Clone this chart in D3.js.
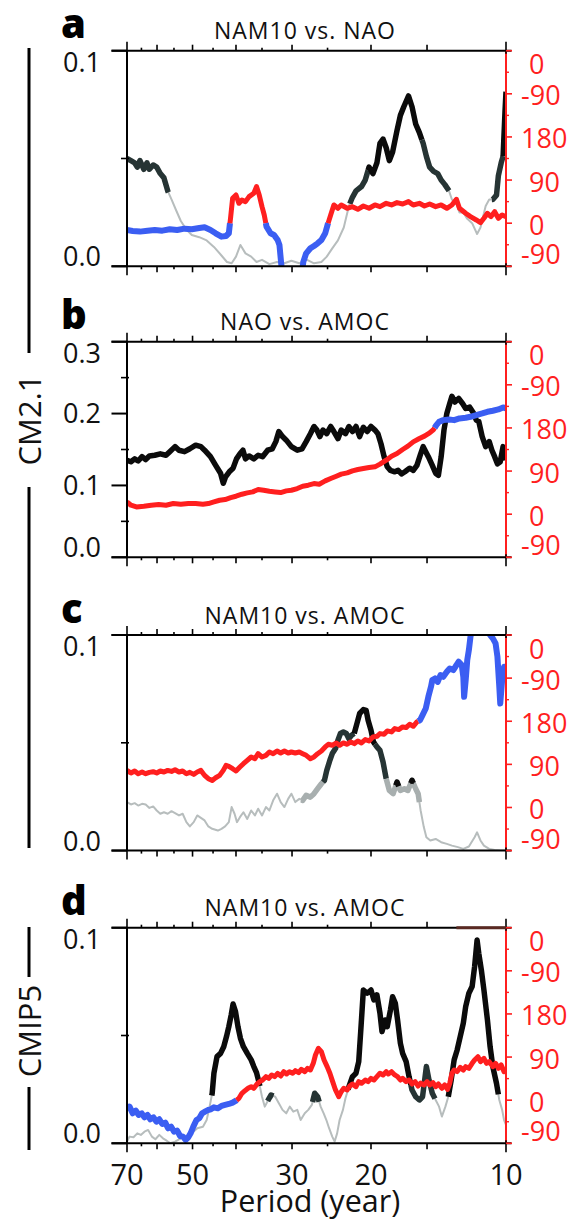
<!DOCTYPE html>
<html>
<head>
<meta charset="utf-8">
<script src="https://cdn.jsdelivr.net/npm/d3@7"></script>
<style>
  html, body { margin: 0; padding: 0; background: #fff; }
  svg { display: block; }
  text { font-family: "Open Sans", "Noto Sans", sans-serif; }
</style>
</head>
<body>
<svg id="fig" width="578" height="1220"></svg>
<script>
// ---------------- data ----------------
const panelLetters = ["a", "b", "c", "d"];
const panelTitles = ["NAM10 vs. NAO", "NAO vs. AMOC", "NAM10 vs. AMOC", "NAM10 vs. AMOC"];
const groupLabels = ["CM2.1", "CMIP5"];

const xTickLabels = [70, 50, 30, 20, 10];
const xTicksEnd = [70, 10];
const xTicksMid = [60, 50, 40, 30, 20, 15];
const xTicksSmall = [65, 55, 45, 35, 25];

const cohMax = [0.1, 0.3, 0.1, 0.1];
const cohTickLabels = [[0, 0.1], [0, 0.1, 0.2, 0.3], [0, 0.1], [0, 0.1]];
const cohMinorTicks = [[0.05], [0.05, 0.15, 0.25], [0.05], [0.05]];

const phaseTicks = [-90, 0, 90, 180, 270, 360];
const phaseMinorTicks = [-45, 45, 135, 225, 315];

// coherence [period (yr), value]
const cohA = [[70,0.050],[68.6,0.049],[67.3,0.048],[66.4,0.046],[65.5,0.049],[64.2,0.045],[63.2,0.048],[62.4,0.045],[61.2,0.047],[60.1,0.046],[59.0,0.043],[57.9,0.041],[56.8,0.035],[55.7,0.031],[54.4,0.026],[53.1,0.021],[51.6,0.017],[50.2,0.0145],[48.3,0.0135],[46.5,0.012],[44.8,0.009],[43.1,0.005],[41.9,0.002],[40.9,0.0014],[40.0,0.0045],[39.1,0.0099],[38.1,0.006],[37.0,0.0045],[36.0,0.002],[35.0,0.003],[33.7,0.001],[32.4,0.002],[31.2,0.0014],[30.1,0.0026],[28.9,0.0014],[27.9,0.0032],[26.8,0.0014],[25.8,0.002],[25.1,0.0045],[24.4,0.0083],[23.7,0.012],[23.0,0.018],[22.4,0.028],[22.0,0.032],[21.6,0.035],[21.0,0.037],[20.6,0.040],[20.2,0.046],[19.8,0.043],[19.4,0.048],[19.1,0.057],[18.8,0.059],[18.5,0.055],[18.2,0.049],[17.9,0.053],[17.5,0.063],[17.2,0.070],[16.9,0.074],[16.5,0.079],[16.2,0.074],[15.9,0.066],[15.6,0.062],[15.3,0.057],[15.05,0.051],[14.8,0.046],[14.5,0.044],[14.2,0.043],[13.95,0.040],[13.7,0.038],[13.4,0.035],[13.2,0.031],[12.9,0.029],[12.7,0.025],[12.45,0.025],[12.2,0.022],[11.9,0.020],[11.6,0.015],[11.4,0.018],[11.1,0.028],[10.9,0.031],[10.7,0.031],[10.5,0.033],[10.4,0.042],[10.25,0.048],[10.15,0.051],[10.05,0.072],[10.0,0.081]];

const cohB = [[70,0.135],[68.6,0.133],[67.3,0.137],[66.1,0.134],[64.8,0.140],[63.6,0.136],[62.4,0.141],[60.7,0.142],[59.0,0.144],[57.3,0.142],[56.2,0.147],[54.7,0.154],[53.6,0.149],[52.1,0.147],[50.7,0.151],[49.2,0.156],[47.9,0.154],[47.0,0.149],[45.6,0.140],[44.4,0.128],[43.3,0.117],[42.7,0.103],[42.2,0.112],[41.4,0.119],[40.6,0.124],[39.9,0.137],[39.2,0.144],[38.6,0.149],[38.1,0.137],[37.4,0.141],[36.5,0.137],[35.7,0.142],[34.9,0.140],[34.0,0.149],[33.2,0.151],[32.6,0.161],[32.1,0.175],[31.5,0.168],[30.9,0.163],[30.1,0.154],[29.2,0.149],[28.5,0.151],[27.9,0.161],[27.3,0.172],[26.8,0.182],[26.4,0.177],[26.0,0.168],[25.6,0.177],[25.1,0.172],[24.6,0.182],[24.2,0.175],[23.7,0.165],[23.3,0.177],[22.8,0.172],[22.4,0.182],[22.0,0.175],[21.6,0.182],[21.2,0.168],[20.8,0.181],[20.4,0.175],[20.0,0.182],[19.6,0.177],[19.3,0.172],[19.0,0.158],[18.7,0.140],[18.4,0.126],[18.1,0.121],[17.7,0.119],[17.4,0.121],[17.1,0.116],[16.8,0.119],[16.4,0.124],[16.1,0.121],[15.8,0.128],[15.5,0.144],[15.3,0.154],[15.1,0.147],[14.9,0.140],[14.6,0.128],[14.35,0.117],[14.15,0.114],[13.95,0.140],[13.75,0.177],[13.55,0.200],[13.35,0.214],[13.2,0.224],[13.0,0.216],[12.75,0.221],[12.5,0.214],[12.3,0.207],[12.05,0.209],[11.8,0.200],[11.65,0.191],[11.5,0.189],[11.3,0.168],[11.1,0.154],[10.9,0.161],[10.75,0.149],[10.6,0.140],[10.45,0.130],[10.3,0.133],[10.15,0.154],[10.05,0.144],[10.0,0.135]];

const cohC = [[70,0.0225],[68.6,0.0214],[67.3,0.0220],[66.1,0.0209],[64.8,0.0217],[63.6,0.0214],[62.4,0.0198],[61.2,0.0205],[60.1,0.0186],[59.0,0.0171],[57.9,0.0178],[56.8,0.0171],[55.7,0.0183],[54.7,0.0174],[53.6,0.0163],[52.6,0.0171],[51.6,0.0132],[50.7,0.0112],[49.7,0.0132],[48.8,0.0163],[47.9,0.0152],[47.0,0.0140],[46.1,0.0112],[45.2,0.0101],[43.9,0.0093],[43.1,0.0101],[42.3,0.0112],[41.5,0.0132],[40.9,0.0202],[40.3,0.0171],[39.8,0.0132],[39.2,0.0155],[38.5,0.0178],[37.75,0.0147],[37.0,0.0186],[36.3,0.0163],[35.7,0.0194],[35.0,0.0163],[34.3,0.0202],[33.7,0.0186],[33.05,0.0233],[32.4,0.0264],[31.8,0.0225],[31.2,0.0202],[30.6,0.0240],[30.1,0.0264],[29.5,0.0225],[28.9,0.0240],[28.4,0.0233],[27.9,0.0256],[27.3,0.0248],[26.8,0.0264],[26.3,0.0287],[25.8,0.0310],[25.4,0.0326],[25.1,0.0372],[24.7,0.0419],[24.4,0.0450],[24.0,0.0473],[23.7,0.0512],[23.4,0.0543],[23.05,0.0550],[22.7,0.0543],[22.4,0.0519],[22.1,0.0535],[21.8,0.0543],[21.5,0.0589],[21.2,0.0636],[20.8,0.0654],[20.5,0.0650],[20.3,0.0605],[20.0,0.0558],[19.75,0.0504],[19.4,0.0481],[19.1,0.0465],[18.8,0.0411],[18.5,0.0333],[18.2,0.0279],[17.85,0.0264],[17.5,0.0318],[17.2,0.0279],[16.85,0.0287],[16.55,0.0279],[16.2,0.0326],[15.9,0.0287],[15.7,0.0264],[15.5,0.0186],[15.25,0.0109],[15.05,0.0062],[14.75,0.0047],[14.35,0.0054],[13.95,0.0039],[13.55,0.0031],[13.2,0.0023],[12.8,0.0016],[12.45,0.0008],[12.1,0.0019],[11.75,0.0062],[11.6,0.0085],[11.4,0.0047],[11.2,0.0023],[10.9,0.0008],[10.6,0.0003],[10.3,0.0],[10.0,0.0]];

const cohD = [[70,0.0008],[69.1,0.0031],[67.7,0.0028],[66.4,0.0046],[65.2,0.0039],[64.0,0.0054],[62.8,0.0062],[61.6,0.0031],[60.5,0.0019],[59.3,0.0039],[58.2,0.0023],[57.1,0.0012],[56.0,0.0],[54.7,0.0008],[53.1,0.0023],[51.6,0.0031],[50.2,0.0046],[48.8,0.0070],[47.4,0.0077],[46.5,0.0108],[45.8,0.0170],[45.2,0.0232],[44.8,0.0325],[44.1,0.0402],[43.3,0.0417],[42.6,0.0448],[42.0,0.0495],[41.5,0.0541],[41.0,0.0595],[40.6,0.0646],[40.1,0.0611],[39.6,0.0541],[39.1,0.0487],[38.5,0.0448],[37.75,0.0417],[37.0,0.0387],[36.5,0.0356],[36.0,0.0328],[35.5,0.0278],[35.0,0.0216],[34.5,0.0170],[33.9,0.0201],[33.4,0.0224],[32.7,0.0216],[32.1,0.0186],[31.5,0.0155],[30.9,0.0139],[30.35,0.0170],[29.8,0.0147],[29.2,0.0155],[28.7,0.0108],[28.1,0.0139],[27.6,0.0155],[27.1,0.0178],[26.7,0.0232],[26.3,0.0216],[25.9,0.0170],[25.5,0.0139],[25.15,0.0108],[24.8,0.0070],[24.4,0.0031],[24.1,0.0008],[23.8,0.0046],[23.5,0.0108],[23.1,0.0155],[22.8,0.0209],[22.4,0.0263],[22.0,0.0309],[21.6,0.0325],[21.3,0.0379],[21.05,0.0541],[20.8,0.0711],[20.4,0.0696],[20.0,0.0711],[19.7,0.0665],[19.4,0.0688],[19.1,0.0603],[18.9,0.0518],[18.6,0.0572],[18.4,0.0541],[18.1,0.0618],[17.9,0.0680],[17.65,0.0649],[17.45,0.0572],[17.2,0.0464],[17.0,0.0417],[16.7,0.0379],[16.45,0.0309],[16.2,0.0247],[15.9,0.0216],[15.6,0.0201],[15.35,0.0216],[15.05,0.0356],[14.85,0.0294],[14.6,0.0232],[14.35,0.0201],[14.1,0.0170],[13.9,0.0124],[13.65,0.0170],[13.45,0.0216],[13.25,0.0294],[13.05,0.0387],[12.85,0.0433],[12.65,0.0495],[12.45,0.0557],[12.3,0.0634],[12.1,0.0696],[11.9,0.0727],[11.75,0.0819],[11.6,0.0943],[11.5,0.0881],[11.35,0.0804],[11.2,0.0711],[11.0,0.0572],[10.85,0.0448],[10.7,0.0356],[10.5,0.0278],[10.35,0.0201],[10.2,0.0155],[10.1,0.0108],[10.0,0.0085]];

// significant period ranges [from, to, level]: 1 = weak, 2 = moderate, 3 = strong
const sigA = [[70,56.6,2],[22.3,20.3,2],[20.3,15.4,3],[15.4,13.4,2],[10.75,10.15,2],[10.15,10,3]];
const sigB = [[70,10,3]];
const sigC = [[28.6,25.6,1],[25.6,21.8,2],[21.8,19.6,3],[19.6,18.5,2],[18.5,15.6,1],[17.6,17.35,3],[16.3,16.1,3]];
const sigD = [[45.3,35.4,3],[34.0,33.0,2],[27.0,26.1,2],[22.5,16.3,3],[16.3,14.4,2],[13.45,10.4,3]];

// phase [period (yr), degrees]
const phaseA = [[70,-14.2],[68.0,-16.3],[65.5,-17.6],[63.0,-15.6],[60.7,-14.2],[58.4,-15.6],[56.2,-12.8],[54.1,-14.2],[52.1,-11.4],[50.2,-12.8],[48.3,-10.0],[47.0,-8.6],[45.6,-14.2],[44.4,-21.1],[43.1,-28.1],[42.1,-26.7],[41.5,-21.1],[41.1,13.7],[40.7,51.9],[40.0,58.9],[39.4,41.5],[38.8,48.4],[38.1,45.0],[37.4,55.4],[36.5,62.4],[36.0,76.3],[35.5,58.9],[35.0,34.5],[34.6,17.1],[34.2,-7.2],[33.5,-21.1],[32.9,-24.6],[32.3,-35.0],[32.0,-45.5],[31.6,-100],[30.1,-120],[28.5,-100],[28.3,-80.3],[27.9,-62.9],[27.3,-52.4],[26.8,-47.6],[26.3,-42.0],[25.8,-35.0],[25.3,-21.1],[25.0,-3.7],[24.6,17.1],[24.2,38.0],[23.7,31.1],[23.3,38.0],[22.6,31.1],[22.0,34.5],[21.4,29.0],[20.8,35.9],[20.2,31.1],[19.6,38.0],[19.1,34.5],[18.5,41.5],[18.0,38.0],[17.5,42.9],[17.0,40.1],[16.5,45.0],[16.1,38.0],[15.6,41.5],[15.2,35.9],[14.8,40.1],[14.35,34.5],[13.95,38.0],[13.55,31.1],[13.2,38.0],[12.9,49.8],[12.7,31.1],[12.3,20.6],[12.0,13.7],[11.65,6.7],[11.4,1.1],[11.2,10.2],[11.0,20.6],[10.8,13.7],[10.6,24.1],[10.4,10.2],[10.2,17.1],[10.0,13.7]];

const phaseB = [[70,25.6],[68.6,18.7],[66.7,15.2],[64.2,16.6],[61.8,18.7],[59.5,20.1],[57.3,18.7],[55.2,22.2],[53.1,20.8],[51.1,22.2],[49.2,22.2],[47.4,20.8],[46.1,22.2],[44.8,25.6],[43.5,29.1],[42.3,30.5],[41.1,34.7],[40.0,37.5],[38.8,41.7],[37.75,44.4],[36.7,46.5],[35.7,51.4],[34.7,50.0],[33.7,47.9],[32.7,46.5],[31.8,45.1],[30.9,48.6],[30.1,50.0],[29.2,53.5],[28.4,58.4],[27.6,60.5],[26.8,63.9],[26.1,62.6],[25.3,69.5],[24.6,74.4],[23.9,79.3],[23.3,83.5],[22.6,86.2],[22.0,90.4],[21.4,93.2],[20.8,95.3],[20.2,97.4],[19.6,98.8],[19.1,104.4],[18.5,112.7],[18.0,121.1],[17.5,126.6],[17.0,135.0],[16.55,142.0],[16.1,151.0],[15.6,158.0],[15.2,162.9],[14.8,169.8],[14.5,176.8],[14.3,185.9],[14.1,192.8],[13.8,196.3],[13.4,197.7],[13.05,196.3],[12.7,199.8],[12.3,201.2],[12.0,203.3],[11.65,206.8],[11.3,210.2],[11.0,213.7],[10.7,215.8],[10.4,218.6],[10.15,222.8],[10.0,220.7]];

const phaseC = [[70,77.4],[68.6,71.9],[67.3,76.1],[66.1,70.5],[64.8,74.0],[63.6,70.5],[62.4,73.3],[61.2,74.7],[60.1,71.9],[59.0,76.1],[57.9,74.0],[56.8,77.4],[55.7,75.3],[54.7,78.8],[53.6,74.0],[52.6,76.1],[51.6,70.5],[50.7,73.3],[49.7,69.1],[48.8,74.0],[47.9,77.4],[47.0,67.0],[46.1,60.0],[45.2,56.5],[44.4,62.1],[43.5,67.0],[42.7,77.4],[42.1,87.9],[41.5,85.8],[40.7,80.9],[40.0,76.1],[39.2,84.4],[38.5,91.4],[37.75,98.4],[37.0,105.4],[36.3,101.9],[35.7,112.3],[35.0,105.4],[34.3,108.8],[33.7,115.8],[33.05,112.3],[32.4,117.9],[31.8,113.7],[31.2,117.9],[30.6,113.7],[30.1,115.8],[29.5,113.7],[28.9,115.8],[28.4,112.3],[27.9,108.8],[27.3,101.9],[26.8,105.4],[26.3,112.3],[25.8,117.9],[25.3,126.3],[24.9,131.9],[24.4,129.8],[23.9,134.7],[23.5,129.8],[23.05,134.7],[22.6,131.9],[22.2,136.8],[21.8,133.3],[21.4,138.8],[21.0,134.7],[20.6,141.6],[20.2,138.8],[19.8,147.2],[19.4,148.6],[19.1,154.2],[18.7,152.8],[18.4,159.8],[18.0,157.7],[17.7,164.7],[17.35,162.6],[17.0,168.1],[16.7,166.8],[16.4,173.7],[16.1,169.5],[15.8,178.6],[15.55,182.1],[15.35,192.6],[15.1,206.5],[14.9,230.9],[14.7,251.9],[14.6,265.8],[14.4,269.3],[14.2,262.3],[14.0,276.3],[13.8,272.8],[13.55,283.3],[13.35,290.2],[13.1,286.8],[12.9,297.2],[12.75,304.2],[12.55,297.2],[12.45,272.8],[12.4,230.9],[12.3,265.8],[12.2,307.7],[12.1,328.6],[12.0,356.5],[11.9,377],[11.4,384],[11.0,377],[10.85,360],[10.7,353],[10.55,342.6],[10.45,314.7],[10.35,251.9],[10.3,216.9],[10.2,265.8],[10.1,293.7],[10.0,286.8]];

const phaseD = [[70,-20.5],[69.1,-13.5],[68.0,-27.4],[66.9,-21.8],[65.9,-30.9],[64.9,-27.4],[64.0,-35.8],[63.0,-30.9],[62.1,-39.9],[61.1,-35.8],[60.2,-44.8],[59.3,-39.9],[58.4,-49.7],[57.5,-46.9],[56.7,-58.7],[55.8,-55.2],[55.0,-65.7],[54.1,-63.6],[53.3,-74.7],[52.5,-76.1],[51.8,-83.0],[51.1,-77.5],[50.5,-69.1],[49.8,-55.2],[49.0,-41.3],[48.3,-37.8],[47.6,-27.4],[46.9,-23.9],[46.2,-20.5],[45.5,-19.1],[44.8,-14.9],[43.9,-17.0],[43.1,-12.1],[42.3,-10.0],[41.5,-7.9],[40.7,-5.1],[40.0,-1.0],[39.4,3.9],[38.8,14.3],[38.2,19.9],[37.6,24.8],[37.0,28.2],[36.5,24.8],[35.9,33.8],[35.4,38.7],[34.9,42.1],[34.3,49.1],[33.8,45.6],[33.3,52.6],[32.8,49.1],[32.3,56.1],[31.8,50.5],[31.3,59.5],[30.85,54.7],[30.4,59.5],[29.9,56.1],[29.5,61.6],[29.0,57.4],[28.6,64.4],[28.1,59.5],[27.7,66.5],[27.3,63.0],[26.9,76.9],[26.6,94.3],[26.2,108.2],[25.8,101.3],[25.45,83.9],[25.05,70.0],[24.7,56.1],[24.35,38.7],[24.0,21.3],[23.6,7.4],[23.3,17.8],[23.0,24.8],[22.6,21.3],[22.3,29.6],[22.0,33.8],[21.6,28.2],[21.3,38.7],[21.0,35.2],[20.6,42.1],[20.3,38.7],[20.0,45.6],[19.7,42.1],[19.4,49.1],[19.1,56.1],[18.8,52.6],[18.5,59.5],[18.3,54.7],[18.0,59.5],[17.7,52.6],[17.45,49.1],[17.2,42.1],[17.0,45.6],[16.7,38.7],[16.45,42.1],[16.2,33.8],[15.95,38.7],[15.7,29.6],[15.5,35.8],[15.25,31.7],[15.0,38.7],[14.8,31.7],[14.55,36.6],[14.35,28.2],[14.15,33.8],[13.9,24.8],[13.7,31.7],[13.5,22.7],[13.35,35.2],[13.2,56.1],[13.05,63.0],[12.85,59.5],[12.65,68.6],[12.45,63.0],[12.3,70.0],[12.1,66.5],[11.9,76.9],[11.75,83.9],[11.55,90.8],[11.4,80.4],[11.2,87.3],[11.05,76.9],[10.9,80.4],[10.7,70.0],[10.55,76.9],[10.4,66.5],[10.25,73.5],[10.1,59.5],[10.0,66.5]];

const panels = [
  { coh: cohA, sig: sigA, phase: phaseA },
  { coh: cohB, sig: sigB, phase: phaseB },
  { coh: cohC, sig: sigC, phase: phaseC },
  { coh: cohD, sig: sigD, phase: phaseD }
];

// ---------------- layout ----------------
const svg = d3.select("#fig");
const X0 = 127, X1 = 506, PH = 215.6;
const tops = [50.7, 341.7, 635, 927.7];
const x = d3.scaleLog().domain([70, 10]).range([X0, X1]);

const RED = "#ff1f1f", BLUE = "#3b5ef2", THIN = "#b7bdbd";
const bandColor = { 1: "#a8afaf", 2: "#263434", 3: "#0b0b0b" };
const defs = svg.append("defs");

// value at a given period, linear in log-period
function valueAt(pts, p) {
  for (let i = 0; i < pts.length - 1; i++) {
    const [p0, v0] = pts[i], [p1, v1] = pts[i + 1];
    if (p <= p0 && p >= p1) {
      const t = (Math.log(p0) - Math.log(p)) / (Math.log(p0) - Math.log(p1) || 1);
      return v0 + t * (v1 - v0);
    }
  }
  return pts[pts.length - 1][1];
}
function slicePeriods(pts, pHi, pLo) {
  const out = [[pHi, valueAt(pts, pHi)]];
  pts.forEach(d => { if (d[0] < pHi && d[0] > pLo) out.push(d); });
  out.push([pLo, valueAt(pts, pLo)]);
  return out;
}
// split the phase curve into red (0..180) and blue (otherwise) runs
function phaseRuns(pts) {
  const isRed = v => v >= 0 && v <= 180;
  const runs = [];
  let red = isRed(pts[0][1]);
  let cur = [pts[0]];
  for (let i = 1; i < pts.length; i++) {
    const a = pts[i - 1], b = pts[i];
    const rb = isRed(b[1]);
    if (rb !== red) {
      const lo = Math.min(a[1], b[1]), hi = Math.max(a[1], b[1]);
      const bnd = (lo < 0 && hi >= 0) ? 0 : 180;
      const t = (bnd - a[1]) / (b[1] - a[1]);
      const lp = Math.log(a[0]) + t * (Math.log(b[0]) - Math.log(a[0]));
      const c = [Math.exp(lp), bnd];
      cur.push(c);
      runs.push({ red, pts: cur });
      cur = [c];
      red = rb;
    }
    cur.push(b);
  }
  runs.push({ red, pts: cur });
  return runs;
}
const fmtPhase = v => { const w = v > 180 ? v - 360 : v; return w < 0 ? "-" + Math.abs(w) : String(w); };

panels.forEach((P, i) => {
  const top = tops[i], bot = top + PH;
  const y = d3.scaleLinear().domain([0, cohMax[i]]).range([bot, top]);
  const yp = d3.scaleLinear().domain([-90, 360]).range([bot, top]);
  const g = svg.append("g").attr("class", "panel-" + panelLetters[i]);

  const cid = "clip-" + i;
  defs.append("clipPath").attr("id", cid)
    .append("rect").attr("x", X0).attr("y", top).attr("width", X1 - X0).attr("height", PH);
  const plot = g.append("g").attr("clip-path", `url(#${cid})`);

  const lineC = d3.line().x(d => x(d[0])).y(d => y(d[1]));
  const lineP = d3.line().x(d => x(d[0])).y(d => yp(d[1]));

  // coherence: thin grey everywhere, thick where significant
  plot.append("path").attr("d", lineC(P.coh))
    .attr("fill", "none").attr("stroke", THIN).attr("stroke-width", 2)
    .attr("stroke-linejoin", "round");
  P.sig.forEach(s => {
    plot.append("path").attr("d", lineC(slicePeriods(P.coh, s[0], s[1])))
      .attr("fill", "none").attr("stroke", bandColor[s[2]]).attr("stroke-width", 5.5)
      .attr("stroke-linejoin", "round").attr("stroke-linecap", "butt");
  });

  // phase
  phaseRuns(P.phase).forEach(r => {
    plot.append("path").attr("d", lineP(r.pts))
      .attr("fill", "none").attr("stroke", r.red ? RED : BLUE)
      .attr("stroke-width", r.red ? 5 : 6)
      .attr("stroke-linejoin", "round").attr("stroke-linecap", "butt");
  });

  // frame
  const ax = g.append("g").attr("stroke-linecap", "butt");
  ax.append("line").attr("x1", 111.5).attr("x2", 511.5).attr("y1", top).attr("y2", top)
    .attr("stroke", "#000").attr("stroke-width", 2);
  ax.append("line").attr("x1", 111.5).attr("x2", 511.5).attr("y1", bot).attr("y2", bot)
    .attr("stroke", "#000").attr("stroke-width", 2);
  ax.append("line").attr("x1", X0).attr("x2", X0).attr("y1", top).attr("y2", bot)
    .attr("stroke", "#000").attr("stroke-width", 2);
  ax.append("line").attr("x1", X1).attr("x2", X1).attr("y1", top).attr("y2", bot)
    .attr("stroke", RED).attr("stroke-width", 2);

  // period ticks, top and bottom
  const xt = [].concat(
    xTicksEnd.map(v => ({ v, len: 9, inn: 3 })),
    xTicksMid.map(v => ({ v, len: 6, inn: 0 })),
    xTicksSmall.map(v => ({ v, len: 3, inn: 0 }))
  );
  ax.selectAll(".xtb").data(xt).join("line")
    .attr("x1", d => x(d.v)).attr("x2", d => x(d.v))
    .attr("y1", d => bot - d.inn).attr("y2", d => bot + d.len)
    .attr("stroke", "#000").attr("stroke-width", 1.6);
  ax.selectAll(".xtt").data(xt).join("line")
    .attr("x1", d => x(d.v)).attr("x2", d => x(d.v))
    .attr("y1", d => top + d.inn).attr("y2", d => top - d.len)
    .attr("stroke", "#000").attr("stroke-width", 1.6);

  // coherence ticks and labels
  cohTickLabels[i].forEach(v => {
    ax.append("line").attr("x1", 111.5).attr("x2", X0).attr("y1", y(v)).attr("y2", y(v))
      .attr("stroke", "#000").attr("stroke-width", 2);
  });
  cohMinorTicks[i].forEach(v => {
    ax.append("line").attr("x1", 121).attr("x2", 129).attr("y1", y(v)).attr("y2", y(v))
      .attr("stroke", "#000").attr("stroke-width", 1.6);
  });
  g.selectAll(".ylab").data(cohTickLabels[i]).join("text")
    .attr("x", 101)
    .attr("y", v => v === cohMax[i] ? y(v) + 21 : (v === 0 ? y(v) : y(v) + 9.5))
    .attr("text-anchor", "end").attr("font-size", 27).attr("fill", "#111")
    .text(v => v.toFixed(1));

  // phase ticks and labels
  phaseTicks.forEach(v => {
    ax.append("line").attr("x1", X1).attr("x2", X1 + 6).attr("y1", yp(v)).attr("y2", yp(v))
      .attr("stroke", RED).attr("stroke-width", 1.6);
  });
  phaseMinorTicks.forEach(v => {
    ax.append("line").attr("x1", X1 - 1).attr("x2", X1 + 3).attr("y1", yp(v)).attr("y2", yp(v))
      .attr("stroke", RED).attr("stroke-width", 1.4);
  });
  g.selectAll(".plab").data(phaseTicks).join("text")
    .attr("x", v => { const s = fmtPhase(v); return 521 + (s.length < 3 ? 8 : 0); })
    .attr("y", v => v === 360 ? top + 23.5 : (v === -90 ? bot - 2 : yp(v) + 11.5))
    .attr("font-size", 27).attr("fill", RED)
    .text(fmtPhase);

  // titles
  g.append("text").attr("x", 61).attr("y", top - 12.5)
    .attr("font-size", 40).attr("font-weight", 800).attr("fill", "#000")
    .text(panelLetters[i]);
  g.append("text").attr("x", 305).attr("y", top - 11.5)
    .attr("text-anchor", "middle").attr("font-size", 23).attr("letter-spacing", 1)
    .attr("fill", "#111").text(panelTitles[i]);

  if (i === 3) {
    g.selectAll(".xlab").data(xTickLabels).join("text")
      .attr("x", v => x(v)).attr("y", bot + 41.5)
      .attr("text-anchor", "middle").attr("font-size", 29).attr("fill", "#111")
      .text(v => v);
    g.append("text").attr("x", 310).attr("y", 1212)
      .attr("text-anchor", "middle").attr("font-size", 30.5).attr("fill", "#111")
      .text("Period (year)");
    g.append("line").attr("x1", x(12.9)).attr("x2", X1).attr("y1", top).attr("y2", top)
      .attr("stroke", "#5a2a22").attr("stroke-width", 3);
  }
});

// model group brackets
const brackets = [
  { label: groupLabels[0], cy: 420, segs: [[48, 353], [487, 848]] },
  { label: groupLabels[1], cy: 1031, segs: [[927, 977], [1087, 1150]] }
];
brackets.forEach(b => {
  b.segs.forEach(s => {
    svg.append("line").attr("x1", 29).attr("x2", 29).attr("y1", s[0]).attr("y2", s[1])
      .attr("stroke", "#000").attr("stroke-width", 3);
  });
  svg.append("text").attr("transform", `translate(40.5,${b.cy}) rotate(-90)`)
    .attr("text-anchor", "middle").attr("font-size", 31).attr("fill", "#111")
    .text(b.label);
});
</script>
</body>
</html>
